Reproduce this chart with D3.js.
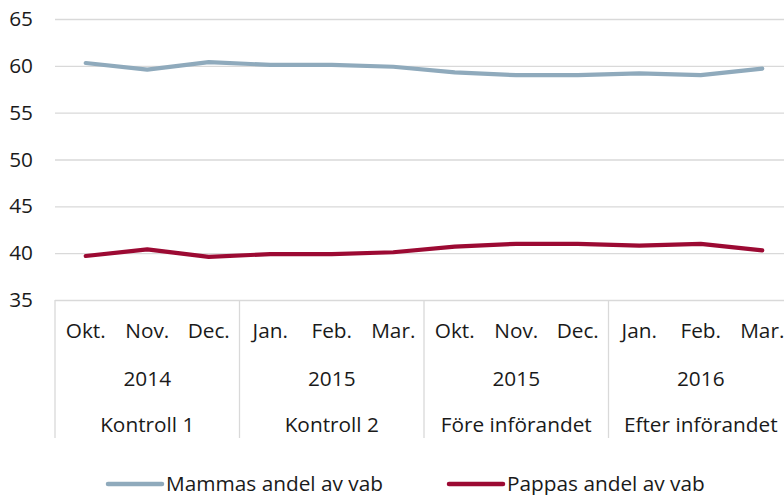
<!DOCTYPE html>
<html>
<head>
<meta charset="utf-8">
<script src="https://cdn.jsdelivr.net/npm/d3@7/dist/d3.min.js"></script>
<style>
  html, body { margin: 0; padding: 0; background: #fff; }
  svg { display: block; }
  text { font-family: "Open Sans", "Noto Sans", sans-serif; fill: #1a1a1a; }
</style>
</head>
<body>
<svg id="chart" width="784" height="495"></svg>
<script>
// Months, years and periods along the x axis
const months = ["Okt.", "Nov.", "Dec.", "Jan.", "Feb.", "Mar.", "Okt.", "Nov.", "Dec.", "Jan.", "Feb.", "Mar."];
const years = ["2014", "2015", "2015", "2016"];
const periods = ["Kontroll 1", "Kontroll 2", "Före införandet", "Efter införandet"];

// Share of VAB days (%)
const mammas = [60.3, 59.6, 60.4, 60.1, 60.1, 59.9, 59.3, 59.0, 59.0, 59.2, 59.0, 59.7];
const pappas = [39.7, 40.4, 39.6, 39.9, 39.9, 40.1, 40.7, 41.0, 41.0, 40.8, 41.0, 40.3];

const yTicks = [35, 40, 45, 50, 55, 60, 65];
const seriesNames = ["Mammas andel av vab", "Pappas andel av vab"];
const seriesColors = ["#8faabc", "#9c0a33"];

const svg = d3.select("#chart");
const plotLeft = 55, plotRight = 793, plotTop = 19, plotBottom = 300;
const gridColor = "#d9d9d9";
const fontSize = 20.8;
const fontFamily = "'Open Sans', 'Noto Sans', sans-serif";

const x = d3.scaleBand().domain(d3.range(months.length)).range([plotLeft, plotRight]);
const y = d3.scaleLinear().domain([35, 65]).range([plotBottom, plotTop]);

// Horizontal gridlines and y labels
const yAxis = d3.axisLeft(y).tickValues(yTicks).tickSize(-(plotRight - plotLeft)).tickPadding(22);
const gy = svg.append("g").attr("transform", `translate(${plotLeft},0)`).call(yAxis);
gy.select(".domain").remove();
gy.selectAll(".tick line").attr("stroke", gridColor).attr("stroke-width", 1.3);
gy.selectAll(".tick text").attr("font-size", fontSize).attr("fill", "#1a1a1a")
  .attr("font-family", fontFamily);

// Multi-level category axis
const groupSize = 3;
const groupStarts = d3.range(0, months.length + 1, groupSize);
const axisG = svg.append("g");
axisG.selectAll("line.div").data(groupStarts).join("line")
  .attr("class", "div")
  .attr("x1", i => i < months.length ? x(i) : plotRight)
  .attr("x2", i => i < months.length ? x(i) : plotRight)
  .attr("y1", plotBottom).attr("y2", 438)
  .attr("stroke", gridColor).attr("stroke-width", 1.3);

axisG.selectAll("text.month").data(months).join("text")
  .attr("class", "month")
  .attr("x", (d, i) => x(i) + x.bandwidth() / 2)
  .attr("y", 338)
  .attr("text-anchor", "middle")
  .attr("font-size", fontSize)
  .text(d => d);

const groupCenter = g => (x(g * groupSize) + x(g * groupSize + groupSize - 1) + x.bandwidth()) / 2;
axisG.selectAll("text.year").data(years).join("text")
  .attr("class", "year")
  .attr("x", (d, g) => groupCenter(g))
  .attr("y", 386)
  .attr("text-anchor", "middle")
  .attr("font-size", fontSize)
  .text(d => d);

axisG.selectAll("text.period").data(periods).join("text")
  .attr("class", "period")
  .attr("x", (d, g) => groupCenter(g))
  .attr("y", 432)
  .attr("text-anchor", "middle")
  .attr("font-size", fontSize)
  .text(d => d);

// Lines
const line = d3.line()
  .x((d, i) => x(i) + x.bandwidth() / 2)
  .y(d => y(d));

[mammas, pappas].forEach((vals, k) => {
  svg.append("path")
    .datum(vals)
    .attr("fill", "none")
    .attr("stroke", seriesColors[k])
    .attr("stroke-width", 4.2)
    .attr("stroke-linejoin", "round")
    .attr("stroke-linecap", "round")
    .attr("d", line);
});

// Legend
const legendX = [108, 449];
seriesNames.forEach((name, k) => {
  const g = svg.append("g").attr("transform", `translate(${legendX[k]},484)`);
  g.append("line").attr("x1", 0).attr("x2", 54).attr("y1", 0).attr("y2", 0)
    .attr("stroke", seriesColors[k]).attr("stroke-width", 4.5).attr("stroke-linecap", "round");
  g.append("text").attr("x", 58).attr("y", 6.5).attr("font-size", fontSize).text(name);
});
</script>
</body>
</html>
